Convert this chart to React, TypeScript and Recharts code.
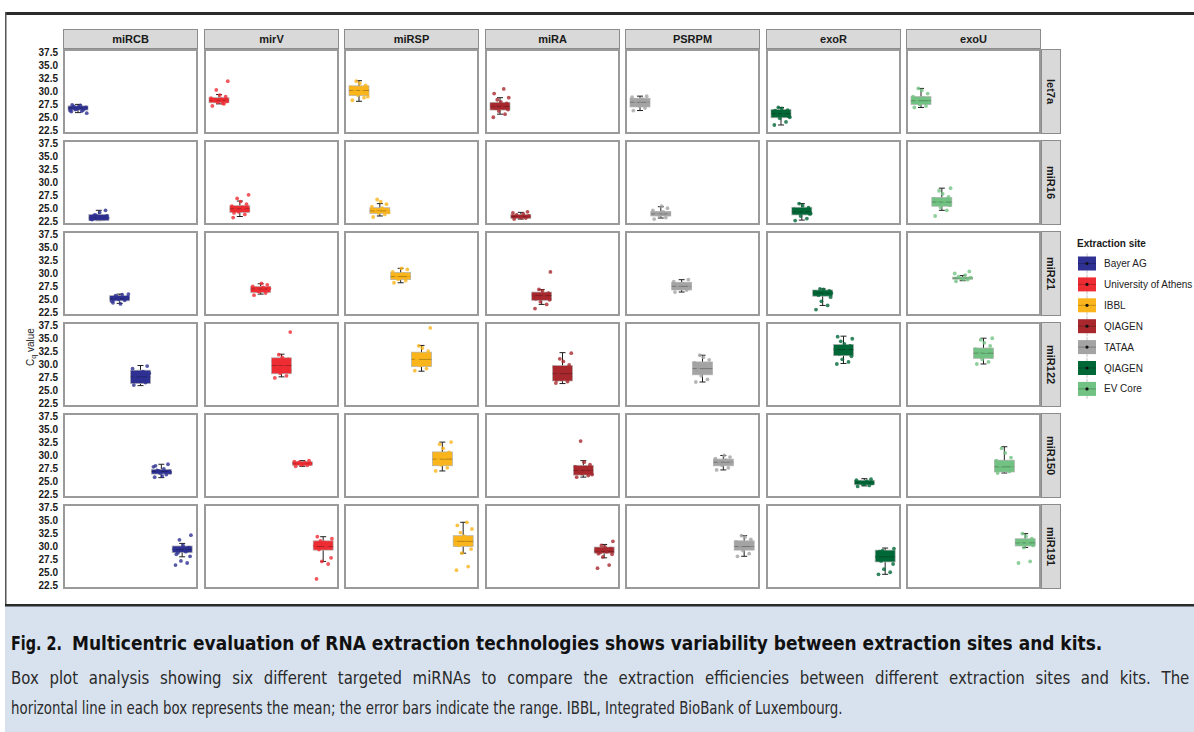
import React, { useLayoutEffect, useRef, useState } from "react";
import { ComposedChart, Bar, Scatter, XAxis, YAxis } from "recharts";

const mirnas = ["let7a", "miR16", "miR21", "miR122", "miR150", "miR191"];
const kits = ["miRCB", "mirV", "miRSP", "miRA", "PSRPM", "exoR", "exoU"];
const sites = ["Bayer AG", "University of Athens", "IBBL", "QIAGEN", "TATAA", "QIAGEN", "EV Core"];
const siteColors = ["#2e3192", "#ed2d33", "#fab51c", "#a8282e", "#a4a4a4", "#006837", "#72c383"];
const yTicks = [22.5, 25, 27.5, 30, 32.5, 35, 37.5];
const yDomain = [21.75, 38.25];

// box stats per miRNA: [low whisker, q1, mean, q3, high whisker]
const boxMiRCB = [
  [25.9, 26.4, 26.8, 27.2, 27.5],
  [22.6, 22.6, 23.2, 23.8, 24.6],
  [24.2, 24.7, 25.1, 25.7, 26.0],
  [25.9, 26.3, 27.6, 28.9, 29.8],
  [25.7, 26.4, 26.9, 27.3, 28.3],
  [28.0, 28.8, 29.4, 30.1, 30.6],
];
const boxMirV = [
  [27.6, 27.8, 28.3, 28.8, 29.4],
  [23.4, 24.2, 24.9, 25.5, 26.4],
  [26.0, 26.3, 27.0, 27.5, 28.0],
  [27.6, 28.2, 29.8, 31.3, 32.0],
  [27.9, 28.1, 28.4, 28.8, 29.0],
  [27.1, 29.3, 30.0, 31.1, 31.9],
];
const boxMiRSP = [
  [28.1, 29.2, 30.2, 31.1, 32.1],
  [23.5, 24.0, 24.5, 25.1, 25.9],
  [28.2, 28.8, 29.4, 30.2, 31.0],
  [28.7, 29.6, 31.0, 32.4, 33.7],
  [27.0, 28.0, 29.3, 30.7, 32.6],
  [28.7, 30.0, 31.0, 32.1, 34.7],
];
const boxMiRA = [
  [25.6, 26.4, 27.1, 27.9, 28.8],
  [22.9, 23.0, 23.4, 23.8, 24.2],
  [24.0, 24.8, 25.7, 26.4, 26.9],
  [26.3, 26.8, 28.2, 29.8, 32.3],
  [25.8, 26.2, 27.1, 28.1, 29.0],
  [27.8, 28.7, 29.0, 29.9, 30.4],
];
const boxPSRPM = [
  [26.3, 27.0, 27.9, 28.7, 29.1],
  [23.1, 23.5, 23.9, 24.4, 25.3],
  [26.4, 26.8, 27.5, 28.3, 28.8],
  [26.6, 28.0, 29.2, 30.5, 31.8],
  [27.2, 28.0, 28.7, 29.3, 30.0],
  [28.1, 29.3, 30.0, 31.1, 32.1],
];
const boxExoR = [
  [23.5, 24.9, 25.7, 26.5, 26.9],
  [22.7, 23.7, 24.3, 25.2, 25.9],
  [23.8, 25.6, 26.2, 26.8, 27.0],
  [30.2, 31.7, 32.9, 33.9, 35.5],
  [24.1, 24.3, 24.7, 25.2, 25.5],
  [24.6, 27.0, 28.0, 29.3, 29.7],
];
const boxExoU = [
  [26.9, 27.5, 28.2, 29.0, 30.6],
  [24.6, 25.4, 26.2, 27.1, 28.9],
  [28.6, 28.9, 29.1, 29.3, 29.6],
  [30.1, 31.2, 32.2, 33.2, 35.1],
  [26.6, 26.8, 27.8, 29.1, 31.7],
  [29.8, 30.1, 30.7, 31.5, 32.5],
];

// individual Cq values per miRNA
const ptsMiRCB = [
  [26.1, 26.4, 26.6, 26.9, 27.1, 27.3, 26.3, 26.7, 27.0, 26.5, 25.8, 27.4, 26.2, 26.8],
  [22.8, 23.0, 23.3, 23.5, 23.7, 23.2, 22.9, 24.6, 24.2, 23.6, 23.1, 23.4],
  [24.3, 24.8, 25.0, 25.4, 25.7, 25.9, 24.6, 25.2, 24.1, 25.5, 26.0, 24.9],
  [26.0, 26.5, 27.0, 27.5, 28.0, 28.6, 29.2, 29.7, 27.2, 26.8, 28.3, 27.8],
  [25.8, 26.3, 26.6, 26.9, 27.1, 27.4, 27.8, 28.3, 26.0, 27.0, 26.7, 28.0],
  [26.4, 26.8, 27.2, 28.1, 28.8, 29.2, 29.5, 29.8, 30.2, 31.3, 32.2, 28.5, 29.0],
];
const ptsMirV = [
  [27.2, 27.6, 27.9, 28.1, 28.3, 28.5, 28.7, 29.0, 29.3, 30.3, 32.0, 28.4, 27.7],
  [23.2, 23.8, 24.3, 24.6, 24.9, 25.2, 25.4, 25.8, 26.3, 26.9, 27.6, 24.1, 25.0],
  [25.8, 26.2, 26.5, 26.8, 27.0, 27.3, 27.5, 27.8, 28.1, 26.6, 27.1],
  [27.4, 27.8, 28.3, 28.9, 29.5, 30.1, 30.6, 31.0, 31.4, 31.9, 36.3, 29.2, 30.8],
  [27.9, 28.1, 28.2, 28.4, 28.5, 28.6, 28.8, 29.0, 28.3, 28.7],
  [23.7, 26.6, 27.1, 27.8, 29.4, 29.8, 30.2, 30.5, 30.8, 31.1, 31.5, 31.9, 29.9, 30.4],
];
const ptsMiRSP = [
  [28.3, 28.8, 29.3, 29.7, 30.0, 30.4, 30.8, 31.2, 31.6, 32.0, 29.0, 30.6],
  [23.3, 23.8, 24.1, 24.4, 24.7, 25.0, 25.3, 25.8, 26.3, 26.7, 24.2],
  [28.2, 28.6, 29.0, 29.3, 29.6, 29.9, 30.3, 30.8, 31.0, 28.9],
  [28.8, 29.2, 29.8, 30.4, 31.0, 31.5, 32.0, 32.6, 33.2, 33.6, 37.1, 30.7],
  [27.0, 27.6, 28.2, 28.7, 29.2, 29.7, 30.2, 30.6, 31.4, 32.2, 32.6],
  [25.4, 26.1, 28.7, 29.5, 30.2, 30.6, 31.0, 31.5, 32.0, 32.7, 33.4, 34.1, 34.7],
];
const ptsMiRA = [
  [25.0, 25.6, 26.2, 26.5, 26.8, 27.1, 27.4, 27.7, 28.0, 28.4, 28.8, 29.6, 30.5],
  [22.9, 23.1, 23.3, 23.5, 23.7, 23.9, 24.1, 24.3, 23.2],
  [23.2, 24.0, 24.5, 24.9, 25.3, 25.6, 25.9, 26.2, 26.6, 26.9, 30.3, 25.1],
  [26.4, 26.7, 27.1, 27.6, 28.2, 28.8, 29.4, 29.9, 30.6, 31.1, 32.2, 27.0],
  [25.8, 26.1, 26.5, 26.8, 27.1, 27.4, 27.8, 28.2, 28.7, 32.8, 26.3],
  [25.8, 26.4, 28.0, 28.5, 28.8, 29.0, 29.3, 29.6, 29.9, 30.2, 31.0, 28.6],
];
const ptsPSRPM = [
  [26.3, 26.8, 27.3, 27.7, 28.1, 28.5, 28.9, 29.1, 27.5],
  [22.9, 23.2, 23.5, 23.8, 24.0, 24.3, 24.6, 25.0, 25.4],
  [26.4, 26.8, 27.1, 27.4, 27.7, 28.0, 28.4, 28.8],
  [26.6, 27.1, 27.8, 28.5, 29.1, 29.7, 30.3, 30.9, 31.4, 31.8],
  [27.2, 27.6, 28.1, 28.5, 28.8, 29.1, 29.4, 29.7, 30.0],
  [28.1, 28.6, 29.2, 29.7, 30.1, 30.5, 30.9, 31.4, 31.8, 32.1],
];
const ptsExoR = [
  [23.5, 24.1, 24.8, 25.2, 25.5, 25.8, 26.1, 26.4, 26.7, 26.9, 25.0, 26.3],
  [22.6, 23.0, 23.5, 23.9, 24.2, 24.5, 24.8, 25.1, 25.5, 25.9, 24.0],
  [23.0, 23.8, 24.6, 25.4, 25.8, 26.1, 26.4, 26.6, 26.9, 27.0, 26.2],
  [30.1, 30.5, 31.0, 31.6, 32.1, 32.6, 33.1, 33.6, 34.0, 34.5, 35.0, 35.4, 32.9],
  [24.0, 24.2, 24.4, 24.6, 24.8, 25.0, 25.2, 25.4, 24.5],
  [24.6, 25.0, 25.6, 26.6, 27.2, 27.6, 28.0, 28.4, 28.8, 29.2, 29.6, 29.0],
];
const ptsExoU = [
  [26.9, 27.2, 27.5, 27.9, 28.3, 28.7, 29.0, 29.6, 30.2, 30.6],
  [23.5, 24.6, 25.2, 25.6, 26.0, 26.4, 26.8, 27.2, 27.8, 28.4, 28.9],
  [28.5, 28.8, 29.0, 29.2, 29.4, 29.7, 30.0, 30.4, 28.9],
  [30.1, 30.5, 31.0, 31.5, 32.0, 32.5, 33.0, 33.6, 34.2, 34.8, 35.1],
  [26.6, 26.9, 27.2, 27.6, 28.0, 28.5, 29.0, 29.6, 30.5, 31.4],
  [26.8, 27.1, 29.8, 30.2, 30.5, 30.8, 31.1, 31.5, 32.0, 32.5],
];

const boxStats = [boxMiRCB, boxMirV, boxMiRSP, boxMiRA, boxPSRPM, boxExoR, boxExoU];
const pointSets = [ptsMiRCB, ptsMirV, ptsMiRSP, ptsMiRA, ptsPSRPM, ptsExoR, ptsExoU];

const captionTitle = "Multicentric evaluation of RNA extraction technologies shows variability between extraction sites and kits.";
const captionLine1 =
  "Box plot analysis showing six different targeted miRNAs to compare the extraction efficiencies between different extraction sites and kits. The";
const captionLine2 =
  "horizontal line in each box represents the mean; the error bars indicate the range. IBBL, Integrated BioBank of Luxembourg.";

// horizontal jitter for the dots (in category units)
const jitter = [-0.34, 0.22, -0.08, 0.36, -0.22, 0.1, -0.4, 0.3, 0.02, -0.15, 0.4, -0.3, 0.16, -0.02];

const PANEL_W = 135;
const PANEL_H = 85;
const AXIS_W = 40;
const PAD = 6;
const FONT = "'Liberation Sans', Arial, sans-serif";
const CAPTION_FONT = "'DejaVu Sans', 'Liberation Sans', sans-serif";

const colLeft = (k: number) => Math.round(63 + k * 140.5);
const rowTop = (r: number) => 49 + r * 91;

const ok = (...v: number[]) => v.every((n) => Number.isFinite(n));

const whiskerShape = (p: any) => {
  const { x, y, width, height } = p;
  if (!ok(x, y, width, height)) return <g />;
  const cx = x + width / 2;
  const top = Math.min(y, y + height);
  const bot = Math.max(y, y + height);
  return (
    <g stroke="#1f1f1f" strokeWidth={1}>
      <line x1={cx} x2={cx} y1={top} y2={bot} />
      <line x1={cx - 3} x2={cx + 3} y1={top} y2={top} />
      <line x1={cx - 3} x2={cx + 3} y1={bot} y2={bot} />
    </g>
  );
};

const makeBoxShape = (color: string) => (p: any) => {
  const { x, y, width, height } = p;
  if (!ok(x, y, width, height)) return <g />;
  return (
    <rect
      x={x}
      y={Math.min(y, y + height)}
      width={width}
      height={Math.abs(height)}
      fill={color}
      stroke="#b0b0b0"
      strokeWidth={0.7}
    />
  );
};

const meanShape = (p: any) => {
  const { x, y, width, height } = p;
  if (!ok(x, y, width, height)) return <g />;
  const cy = y + height / 2;
  return <line x1={x} x2={x + width} y1={cy} y2={cy} stroke="rgba(0,0,0,0.28)" strokeWidth={1} />;
};

const makeDot = (color: string) => (p: any) => {
  const { cx, cy } = p;
  if (!ok(cx, cy)) return <g />;
  return <circle cx={cx} cy={cy} r={1.9} fill={color} fillOpacity={0.8} />;
};

function Panel({ kit, row }: { kit: number; row: number }) {
  const color = siteColors[kit];
  const s = boxStats[kit][row];
  const data = mirnas.map((m, i) =>
    i === row
      ? { mir: m, range: [s[0], s[4]], box: [s[1], s[3]], mean: [s[2] - 0.05, s[2] + 0.05] }
      : { mir: m }
  );
  const pts = pointSets[kit][row].map((v, i) => ({ x: row + 1 + jitter[i % jitter.length], y: v }));
  const first = kit === 0;
  const axisW = first ? AXIS_W : 0;

  return (
    <>
      <div
        style={{
          position: "absolute",
          left: colLeft(kit),
          top: rowTop(row),
          width: PANEL_W,
          height: PANEL_H,
          border: "2px solid #9a9a9a",
          boxSizing: "border-box",
          background: "#fff",
        }}
      />
      <div style={{ position: "absolute", left: colLeft(kit) - axisW, top: rowTop(row) - PAD }}>
        <ComposedChart
          width={PANEL_W + axisW}
          height={PANEL_H + 2 * PAD}
          data={data}
          margin={{ top: PAD, right: 0, bottom: PAD, left: 0 }}
        >
          <XAxis xAxisId="w" dataKey="mir" type="category" hide padding={{ left: 5, right: 5 }} />
          <XAxis xAxisId="b" dataKey="mir" type="category" hide padding={{ left: 5, right: 5 }} />
          <XAxis xAxisId="m" dataKey="mir" type="category" hide padding={{ left: 5, right: 5 }} />
          <XAxis
            xAxisId="p"
            dataKey="x"
            type="number"
            domain={[0.5, 6.5]}
            allowDataOverflow
            hide
            padding={{ left: 5, right: 5 }}
          />
          <YAxis
            type="number"
            domain={yDomain}
            allowDataOverflow
            ticks={yTicks}
            hide={!first}
            width={first ? AXIS_W : 0}
            axisLine={false}
            tickLine={false}
            tickSize={2}
            tickMargin={3}
            interval={0}
            tickFormatter={(v: number) => v.toFixed(1)}
            tick={{ fontSize: 10, fontWeight: 700, fill: "#1a1a1a", fontFamily: FONT }}
          />
          <Bar xAxisId="w" dataKey="range" barSize={20} shape={whiskerShape} isAnimationActive={false} />
          <Bar xAxisId="b" dataKey="box" barSize={20} shape={makeBoxShape(color)} isAnimationActive={false} />
          <Bar xAxisId="m" dataKey="mean" barSize={20} shape={meanShape} isAnimationActive={false} />
          <Scatter xAxisId="p" data={pts} dataKey="y" shape={makeDot(color)} isAnimationActive={false} />
        </ComposedChart>
      </div>
    </>
  );
}

const stripStyle: React.CSSProperties = {
  position: "absolute",
  background: "#d9d9d9",
  border: "1px solid #8c8c8c",
  boxSizing: "border-box",
  fontFamily: FONT,
  fontWeight: 700,
  fontSize: 11,
  color: "#1a1a1a",
  display: "flex",
  alignItems: "center",
  justifyContent: "center",
};

// caption text is condensed to the widths of the printed figure
function Caption() {
  const fig = useRef<SVGTextElement>(null);
  const ttl = useRef<SVGTextElement>(null);
  const l1 = useRef<SVGTextElement>(null);
  const l2 = useRef<SVGTextElement>(null);
  const [fit, setFit] = useState({ fig: 1, ttl: 1, f1: 1, ws: 0, f2: 1 });
  useLayoutEffect(() => {
    if (!fig.current || !ttl.current || !l1.current || !l2.current) return;
    const n1 = l1.current.getComputedTextLength();
    const n2 = l2.current.getComputedTextLength();
    const f2 = 832 / n2;
    const g1 = 1179 / n1;
    const f1 = (f2 + g1) / 2;
    const ws = Math.max(0, (1179 / f1 - n1) / 19);
    setFit({
      fig: 51 / fig.current.getComputedTextLength(),
      ttl: 1031 / ttl.current.getComputedTextLength(),
      f1,
      ws,
      f2,
    });
  }, []);
  return (
    <g>
      <rect x={5} y={605} width={1189} height={127} fill="#d8e2ef" />
      <rect x={5} y={604} width={1189} height={2.5} fill="#2b2b2b" />
      <text ref={fig} transform={`translate(11,650) scale(${fit.fig},1)`} fontFamily={CAPTION_FONT} fontWeight={700} fontSize={20} fill="#111">
        Fig. 2.
      </text>
      <text ref={ttl} transform={`translate(72,650) scale(${fit.ttl},1)`} fontFamily={CAPTION_FONT} fontWeight={700} fontSize={19} fill="#111">
        {captionTitle}
      </text>
      <text
        ref={l1}
        transform={`translate(11,684) scale(${fit.f1},1)`}
        fontFamily={CAPTION_FONT}
        fontSize={18}
        fill="#2a2a2a"
        wordSpacing={fit.ws}
      >
        {captionLine1}
      </text>
      <text ref={l2} transform={`translate(11,714) scale(${fit.f2},1)`} fontFamily={CAPTION_FONT} fontSize={18} fill="#2a2a2a">
        {captionLine2}
      </text>
    </g>
  );
}

export default function App() {
  return (
    <div
      style={{
        position: "absolute",
        left: 0,
        top: 0,
        width: 1194,
        height: 732,
        background: "#fff",
        overflow: "hidden",
        fontFamily: FONT,
      }}
    >
      <svg width={1194} height={732} style={{ position: "absolute", left: 0, top: 0 }}>
        {/* frame */}
        <rect x={5} y={12} width={1189} height={3} fill="#2b2b2b" />
        <rect x={5} y={12} width={1.5} height={720} fill="#555" />
        <Caption />

        {/* y axis title */}
        <text transform="translate(34,347) rotate(-90)" textAnchor="middle" fontSize={10} fill="#1a1a1a" fontFamily={FONT}>
          C<tspan fontSize={7} dy={2}>q</tspan>
          <tspan dy={-2}> value</tspan>
        </text>

        {/* legend */}
        <text x={1077} y={247} fontSize={10} fontWeight={700} fill="#1a1a1a" fontFamily={FONT}>
          Extraction site
        </text>
        {sites.map((name, i) => {
          const cy = 263.5 + i * 20.9;
          return (
            <g key={i}>
              <line x1={1087} x2={1087} y1={cy - 10} y2={cy + 10} stroke="#b5b5b5" strokeWidth={0.8} />
              <rect x={1078} y={cy - 7} width={18} height={14} fill={siteColors[i]} />
              <line x1={1078} x2={1096} y1={cy} y2={cy} stroke="rgba(0,0,0,0.3)" strokeWidth={0.8} />
              <circle cx={1087} cy={cy} r={1.6} fill="#111" />
              <text x={1104} y={cy + 3.5} fontSize={10} fill="#222" fontFamily={FONT}>
                {name}
              </text>
            </g>
          );
        })}
      </svg>

      {kits.map((k, i) => (
        <div key={k} style={{ ...stripStyle, left: colLeft(i), top: 29, width: PANEL_W, height: 20 }}>
          {k}
        </div>
      ))}
      {mirnas.map((m, r) => (
        <div
          key={m}
          style={{ ...stripStyle, left: colLeft(6) + PANEL_W, top: rowTop(r), width: 20, height: PANEL_H, writingMode: "vertical-rl" }}
        >
          {m}
        </div>
      ))}

      {mirnas.map((m, r) => kits.map((k, c) => <Panel key={`${k}-${m}`} kit={c} row={r} />))}
    </div>
  );
}
